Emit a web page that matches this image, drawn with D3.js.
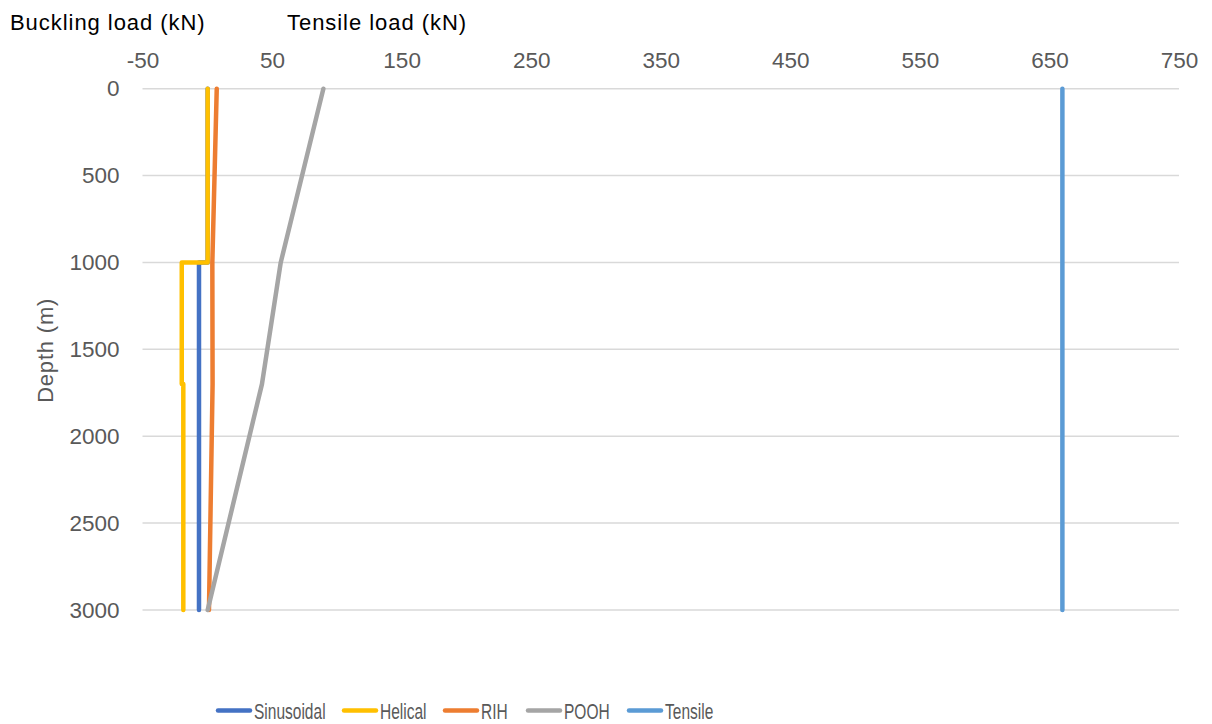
<!DOCTYPE html>
<html>
<head>
<meta charset="utf-8">
<script src="https://cdn.jsdelivr.net/npm/d3@7"></script>
<style>
  body { margin: 0; background: #fff; }
  text { font-family: "Liberation Sans", Arial, Helvetica, sans-serif; }
</style>
</head>
<body>
<div id="chart"></div>
<script>
// data: depth (m) and load (kN) per series
const seriesNames = ["Sinusoidal", "Helical", "RIH", "POOH", "Tensile"];
const sinusoidalDepth = [0, 1000, 1000, 3000];
const sinusoidalLoad  = [0.3, 0.3, -6.4, -6.4];
const helicalDepth = [0, 1000, 1000, 1700, 1700, 3000];
const helicalLoad  = [0.3, 0.3, -19.7, -19.7, -18.5, -18.5];
const rihDepth = [0, 1000, 1700, 3000];
const rihLoad  = [7.3, 3.9, 4.1, 1.3];
const poohDepth = [0, 1000, 1700, 3000];
const poohLoad  = [89.6, 56.7, 42.2, 0.3];
const tensileDepth = [0, 3000];
const tensileLoad  = [660, 660];
const xTicks = [-50, 50, 150, 250, 350, 450, 550, 650, 750];
const yTicks = [0, 500, 1000, 1500, 2000, 2500, 3000];
const colors = ["#4472C4", "#FFC000", "#ED7D31", "#A5A5A5", "#5B9BD5"];

const series = [
  [sinusoidalDepth, sinusoidalLoad],
  [helicalDepth, helicalLoad],
  [rihDepth, rihLoad],
  [poohDepth, poohLoad],
  [tensileDepth, tensileLoad]
].map(([d, v], i) => ({
  name: seriesNames[i],
  color: colors[i],
  points: d.map((dd, j) => ({ depth: dd, load: v[j] }))
}));

// dimensions
const W = 1212, H = 724;
const margin = { top: 88.7, right: 33, bottom: 114, left: 142.5 };
const width = W - margin.left - margin.right,
      height = H - margin.top - margin.bottom;

const svg = d3.select("#chart")
  .append("svg")
    .attr("width", W)
    .attr("height", H);

const g = svg.append("g")
  .attr("transform", `translate(${margin.left},${margin.top})`);

// scales
const x = d3.scaleLinear().domain([-50, 750]).range([0, width]);
const y = d3.scaleLinear().domain([0, 3000]).range([0, height]);

// gridlines
g.append("g")
  .selectAll("line")
  .data(yTicks)
  .enter()
  .append("line")
    .attr("x1", 0)
    .attr("x2", width)
    .attr("y1", d => y(d))
    .attr("y2", d => y(d))
    .attr("stroke", "#d9d9d9")
    .attr("stroke-width", 1.5);

// top axis (plain numbers, ascii minus)
const fmt = d => String(d);
const xAxis = g.append("g")
  .call(d3.axisTop(x).tickValues(xTicks).tickFormat(fmt).tickSize(0).tickPadding(21));
xAxis.select(".domain").remove();
xAxis.selectAll("text")
  .attr("fill", "#595959")
  .style("font-size", "22.5px");

// left axis
const yAxis = g.append("g")
  .call(d3.axisLeft(y).tickValues(yTicks).tickFormat(fmt).tickSize(0).tickPadding(23));
yAxis.select(".domain").remove();
yAxis.selectAll("text")
  .attr("fill", "#595959")
  .style("font-size", "22.5px");

// series lines
const line = d3.line()
  .x(d => x(d.load))
  .y(d => y(d.depth));

g.selectAll(".series")
  .data(series)
  .enter()
  .append("path")
    .attr("class", "series")
    .attr("d", d => line(d.points))
    .attr("fill", "none")
    .attr("stroke", d => d.color)
    .attr("stroke-width", 4.5)
    .attr("stroke-linecap", "round")
    .attr("stroke-linejoin", "round");

// titles
svg.append("text")
  .attr("x", 10)
  .attr("y", 30)
  .attr("fill", "#000")
  .style("font-size", "22px")
  .style("letter-spacing", "0.95px")
  .text("Buckling load (kN)");

svg.append("text")
  .attr("x", 287)
  .attr("y", 30)
  .attr("fill", "#000")
  .style("font-size", "22px")
  .style("letter-spacing", "0.95px")
  .text("Tensile load (kN)");

svg.append("text")
  .attr("transform", `translate(53, ${margin.top + height / 2 + 1}) rotate(-90)`)
  .attr("text-anchor", "middle")
  .attr("fill", "#595959")
  .style("font-size", "22px")
  .style("letter-spacing", "0.8px")
  .text("Depth (m)");

// legend
const legendX = [216, 342, 443, 526, 627];
const legend = svg.append("g")
  .selectAll("g")
  .data(series)
  .enter()
  .append("g")
    .attr("transform", (d, i) => `translate(${legendX[i]}, 710.5)`);

legend.append("line")
  .attr("x1", 2)
  .attr("x2", 34)
  .attr("stroke", d => d.color)
  .attr("stroke-width", 4.5)
  .attr("stroke-linecap", "round");

legend.append("text")
  .attr("transform", "translate(38, 0) scale(0.69, 1)")
  .attr("dy", "0.36em")
  .attr("fill", "#595959")
  .style("font-size", "22.5px")
  .text(d => d.name);
</script>
</body>
</html>
